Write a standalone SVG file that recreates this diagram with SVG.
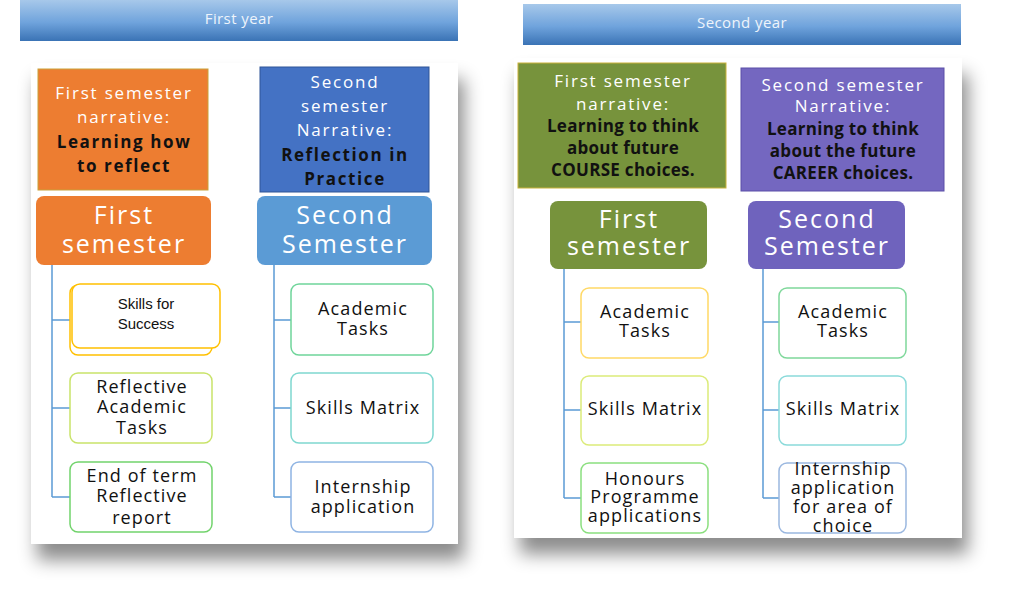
<svg xmlns="http://www.w3.org/2000/svg" width="1024" height="606" viewBox="0 0 1024 606">
<defs>
<linearGradient id="hdr" x1="0" y1="0" x2="0" y2="1">
<stop offset="0" stop-color="#a7c8ea"/>
<stop offset="0.55" stop-color="#6fa3dc"/>
<stop offset="1" stop-color="#3a73b5"/>
</linearGradient>
<filter id="sh" x="-10%" y="-10%" width="125%" height="130%">
<feDropShadow dx="6" dy="16" stdDeviation="9" flood-color="#000" flood-opacity="0.45"/>
</filter>
<style>
text{font-family:"Open Sans","Liberation Sans",sans-serif;text-anchor:middle}
.hd{font-size:15px;fill:#eef4fb;letter-spacing:0.4px}
.nw{font-size:17px;fill:#fff;letter-spacing:1.8px}
.nb{font-size:17px;fill:#111;font-weight:bold;letter-spacing:1.6px}
.nb2{font-size:17px;fill:#111;font-weight:bold;letter-spacing:0.3px}
.big{font-size:25px;fill:#fff;letter-spacing:2px}
.ch{font-size:18px;fill:#111;letter-spacing:1.1px}
.ar{font-family:"Liberation Sans",Arial,sans-serif;font-size:15px;fill:#111}
.cb{fill:#fff;stroke-width:1.5}
.con{stroke:#5b9bd5;stroke-width:1.5;fill:none}
</style>
</defs>
<rect width="1024" height="606" fill="#fff"/>

<g id="header1"><rect x="20" y="0" width="438" height="41" fill="url(#hdr)"/><text class="hd" x="239" y="24">First year</text></g>
<g id="header2"><rect x="523" y="4" width="438" height="41" fill="url(#hdr)"/><text class="hd" x="742" y="28">Second year</text></g>

<g id="panel1"><rect x="31" y="63" width="427" height="481" fill="#fff" filter="url(#sh)"/></g>
<g id="panel2"><rect x="514" y="58" width="448" height="480" fill="#fff" filter="url(#sh)"/></g>

<g id="connectors">
<path class="con" d="M52 265V497M52 320H71M52 408H71M52 497H71"/>
<path class="con" d="M274 265V497M274 320H291M274 408H291M274 497H291"/>
<path class="con" d="M564 269V498M564 322H581M564 410H581M564 498H581"/>
<path class="con" d="M763 269V498M763 322H779M763 410H779M763 498H779"/>
</g>

<g id="y1-narr1"><rect x="38" y="69" width="170" height="121" fill="#ed7d31" stroke="#c9a23a" stroke-width="1"/>
<text class="nw" x="124" y="99">First semester</text><text class="nw" x="124" y="123">narrative:</text>
<text class="nb" x="124" y="148">Learning how</text><text class="nb" x="124" y="172">to reflect</text></g>
<g id="y1-narr2"><rect x="260" y="67" width="169" height="125" fill="#4472c4" stroke="#2f5597" stroke-width="1"/>
<text class="nw" x="345" y="88">Second</text><text class="nw" x="345" y="112">semester</text><text class="nw" x="345" y="136">Narrative:</text>
<text class="nb" x="345" y="161">Reflection in</text><text class="nb" x="345" y="185">Practice</text></g>

<g id="y1-sem1"><rect x="36" y="196" width="175" height="69" rx="8" fill="#ed7d31"/>
<text class="big" x="124" y="224">First</text><text class="big" x="124" y="253">semester</text></g>
<g id="y1-sem2"><rect x="257" y="196" width="175" height="69" rx="8" fill="#5b9bd5"/>
<text class="big" x="345" y="224">Second</text><text class="big" x="345" y="253">Semester</text></g>

<g id="y1-c1"><rect class="cb" x="70" y="285" width="142" height="70" rx="8" stroke="#ffc000"/>
<rect class="cb" x="72" y="284" width="148" height="64" rx="8" stroke="#ffc000" stroke-width="2"/>
<text class="ar" x="146" y="309">Skills for</text><text class="ar" x="146" y="329">Success</text></g>
<g id="y1-c2"><rect class="cb" x="70" y="373" width="142" height="70" rx="8" stroke="#c9e36a"/>
<text class="ch" x="142" y="393">Reflective</text><text class="ch" x="142" y="413">Academic</text><text class="ch" x="142" y="434">Tasks</text></g>
<g id="y1-c3"><rect class="cb" x="70" y="462" width="142" height="70" rx="8" stroke="#72d36c"/>
<text class="ch" x="142" y="482">End of term</text><text class="ch" x="142" y="502">Reflective</text><text class="ch" x="142" y="524">report</text></g>

<g id="y1-c4"><rect class="cb" x="291" y="284" width="142" height="71" rx="8" stroke="#6fd59a"/>
<text class="ch" x="363" y="315">Academic</text><text class="ch" x="363" y="335">Tasks</text></g>
<g id="y1-c5"><rect class="cb" x="291" y="373" width="142" height="70" rx="8" stroke="#7fd8d0"/>
<text class="ch" x="363" y="414">Skills Matrix</text></g>
<g id="y1-c6"><rect class="cb" x="291" y="462" width="142" height="70" rx="8" stroke="#8fb4e3"/>
<text class="ch" x="363" y="493">Internship</text><text class="ch" x="363" y="513">application</text></g>

<g id="y2-narr1"><rect x="518" y="63" width="208" height="125" fill="#77933c" stroke="#c9b23a" stroke-width="1"/>
<text class="nw" x="623" y="87">First semester</text><text class="nw" x="623" y="110">narrative:</text>
<text class="nb2" x="623" y="132">Learning to think</text><text class="nb2" x="623" y="154">about future</text><text class="nb2" x="623" y="176" letter-spacing="1.2">COURSE choices.</text></g>
<g id="y2-narr2"><rect x="741" y="68" width="203" height="123" fill="#7467c0" stroke="#5a4fa8" stroke-width="1"/>
<text class="nw" x="843" y="91" letter-spacing="1">Second semester</text><text class="nw" x="843" y="112">Narrative:</text>
<text class="nb2" x="843" y="135">Learning to think</text><text class="nb2" x="843" y="157">about the future</text><text class="nb2" x="843" y="179" letter-spacing="1.1">CAREER choices.</text></g>

<g id="y2-sem1"><rect x="550" y="201" width="157" height="68" rx="8" fill="#77933c"/>
<text class="big" x="629" y="228">First</text><text class="big" x="629" y="255">semester</text></g>
<g id="y2-sem2"><rect x="748" y="201" width="157" height="68" rx="8" fill="#6f63bd"/>
<text class="big" x="827" y="228">Second</text><text class="big" x="827" y="255">Semester</text></g>

<g id="y2-c1"><rect class="cb" x="581" y="288" width="127" height="70" rx="8" stroke="#ffd966"/>
<text class="ch" x="645" y="318">Academic</text><text class="ch" x="645" y="337">Tasks</text></g>
<g id="y2-c2"><rect class="cb" x="581" y="376" width="127" height="69" rx="8" stroke="#dceb7a"/>
<text class="ch" x="645" y="415" letter-spacing="0.6">Skills Matrix</text></g>
<g id="y2-c3"><rect class="cb" x="581" y="463" width="127" height="70" rx="8" stroke="#8bdf7f"/>
<text class="ch" x="645" y="485">Honours</text><text class="ch" x="645" y="503" letter-spacing="0.6">Programme</text><text class="ch" x="645" y="522" letter-spacing="0.4">applications</text></g>

<g id="y2-c4"><rect class="cb" x="779" y="288" width="127" height="70" rx="8" stroke="#7fd89b"/>
<text class="ch" x="843" y="318">Academic</text><text class="ch" x="843" y="337">Tasks</text></g>
<g id="y2-c5"><rect class="cb" x="779" y="376" width="127" height="69" rx="8" stroke="#8adada"/>
<text class="ch" x="843" y="415" letter-spacing="0.6">Skills Matrix</text></g>
<g id="y2-c6"><rect class="cb" x="779" y="463" width="127" height="70" rx="8" stroke="#9bb8e0"/>
<text class="ch" x="843" y="475">Internship</text><text class="ch" x="843" y="494">application</text><text class="ch" x="843" y="513">for area of</text><text class="ch" x="843" y="532">choice</text></g>
</svg>
